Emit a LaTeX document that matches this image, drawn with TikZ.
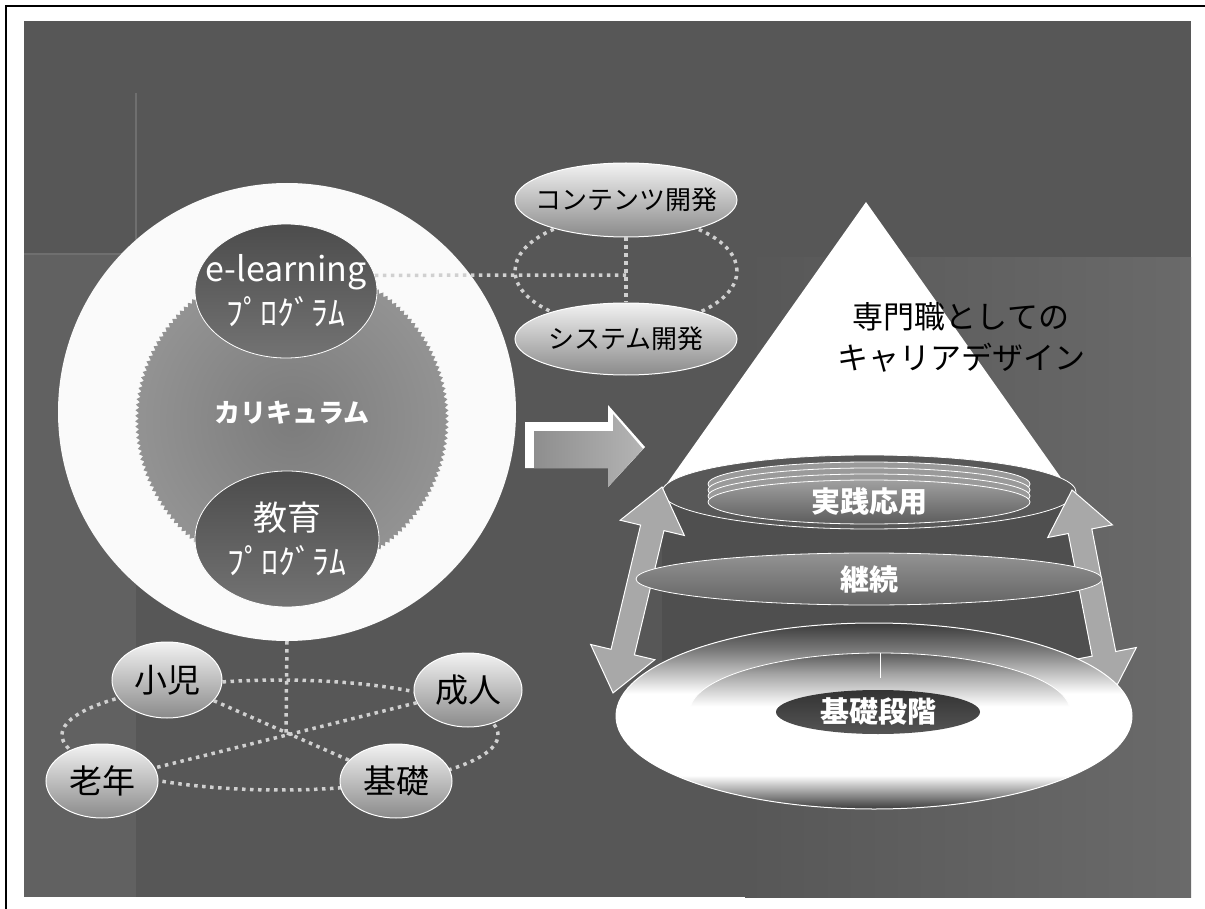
\documentclass[tikz,border=0pt]{standalone}
\usepackage{fontspec}
\setmainfont{Noto Sans CJK JP}
\usetikzlibrary{shapes.geometric,decorations.pathmorphing}
\definecolor{panelA}{HTML}{575757}
\definecolor{panelB}{HTML}{6A6A6A}
\definecolor{panelL}{HTML}{616161}
\definecolor{faintC}{HTML}{6F6F6F}
\definecolor{dotC}{HTML}{D0D0D0}
\definecolor{gearC}{HTML}{939393}
\definecolor{gearIn}{HTML}{7C7C7C}
\definecolor{bigC}{HTML}{FAFAFA}
\definecolor{dbTop}{HTML}{4C4C4C}
\definecolor{dbBot}{HTML}{737373}
\definecolor{lbTop}{HTML}{F2F2F2}
\definecolor{lbMid}{HTML}{CFCFCF}
\definecolor{lbBot}{HTML}{8A8A8A}
\definecolor{cylC}{HTML}{4F4F4F}
\definecolor{discE}{HTML}{585858}
\definecolor{discM}{HTML}{2E2E2E}
\definecolor{ringC}{HTML}{9A9A9A}
\definecolor{jsTop}{HTML}{A0A0A0}
\definecolor{jsBot}{HTML}{5C5C5C}
\definecolor{kzTop}{HTML}{939393}
\definecolor{kzBot}{HTML}{646464}
\definecolor{arrC}{HTML}{A8A8A8}
\definecolor{bdE}{HTML}{3A3A3A}
\definecolor{bdM}{HTML}{777777}
\definecolor{innTop}{HTML}{5A5A5A}
\definecolor{ksTop}{HTML}{333333}
\definecolor{ksBot}{HTML}{555555}
\definecolor{mArL}{HTML}{8E8E8E}
\definecolor{mArR}{HTML}{B4B4B4}
\pgfdeclareverticalshading{discsh}{100bp}{color(0bp)=(bdE); color(25bp)=(bdE); color(34bp)=(white); color(56bp)=(white); color(68bp)=(bdM); color(75bp)=(bdE); color(100bp)=(bdE)}
\pgfdeclareverticalshading{innsh}{100bp}{color(0bp)=(white); color(25bp)=(white); color(52bp)=(white); color(66bp)=(innTop!55!white); color(75bp)=(innTop); color(100bp)=(innTop)}
\tikzset{
  dotln/.style={draw=dotC, line width=3.5pt, dash pattern=on 3.5pt off 4.5pt},
  darkbub/.style={ellipse, draw=white, line width=0.8pt, top color=dbTop, bottom color=dbBot, inner sep=0pt},
  lightbub/.style={ellipse, draw=white, line width=1pt, top color=lbTop, middle color=lbMid, bottom color=lbBot, inner sep=0pt},
  wtxt/.style={text=white, align=center, inner sep=0pt},
  btxt/.style={text=black, align=center, inner sep=0pt},
  fbig/.style={font=\fontsize{34}{44}\selectfont},
  fmid/.style={font=\fontsize{33}{40}\selectfont},
  fsm/.style={font=\fontsize{26}{30}\selectfont},
  fbold/.style={font=\bfseries\fontsize{29}{34}\selectfont},
  blockarr/.style={fill=arrC, draw=white, line width=1pt}
}
\begin{document}
\begin{tikzpicture}[x=1pt,y=1pt]
\useasboundingbox (0,0) rectangle (1205,-909);
\fill[white] (0,0) rectangle (1205,-909);
% panel
\fill[panelA] (24,-21) rectangle (1191,-897);
\fill[panelL] (24,-254) rectangle (136,-897);
\shade[left color=panelA, right color=panelB] (745,-258) rectangle (1191,-897);
\draw[faintC, line width=1.5pt] (136,-93) -- (136,-254);
\draw[faintC, line width=1.5pt] (24,-254) -- (136,-254);
% frame
\draw[black, line width=1.2pt] (6,-909) -- (6,-6) -- (1205,-6);

% dotted loops (behind nodes)
\draw[dotln] (626,-271) ellipse [x radius=111, y radius=55];
\draw[dotln] (280,-735) ellipse [x radius=218, y radius=55];

% big circle and gear
\node[circle, minimum size=458pt, inner sep=0pt, fill=bigC] (cur) at (287,-412) {};
\shade[inner color=gearIn, outer color=gearC, decorate, decoration={zigzag, segment length=5.5pt, amplitude=1.8pt}] (292,-420) circle [radius=155];
\node[wtxt, font=\bfseries\fontsize{26}{30}\selectfont] (curtxt) at (292,-413) {カリキュラム};

\node[darkbub, minimum width=182pt, minimum height=134pt,
  label={[wtxt, fbig]center:{e-learning\\ﾌﾟﾛｸﾞﾗﾑ}}] (elearn) at (286,-291) {};
\node[darkbub, minimum width=184pt, minimum height=136pt,
  label={[wtxt, fbig]center:{教育\\ﾌﾟﾛｸﾞﾗﾑ}}] (kyoiku) at (287,-539) {};

% development bubbles
\node[lightbub, minimum width=222pt, minimum height=74pt,
  label={[btxt, fsm]center:コンテンツ開発}] (cont) at (626,-200) {};
\node[lightbub, minimum width=222pt, minimum height=72pt,
  label={[btxt, fsm]center:システム開発}] (sys) at (626,-339) {};
\coordinate (dj) at (626,-275);
\draw[dotln] (elearn.10) -- (dj);
\draw[dotln] (cont) -- (sys);

% target bubbles
\node[lightbub, minimum width=110pt, minimum height=76pt,
  label={[btxt, fmid]center:小児}] (child) at (167,-680) {};
\node[lightbub, minimum width=108pt, minimum height=74pt,
  label={[btxt, fmid]center:成人}] (adult) at (468,-690) {};
\node[lightbub, minimum width=112pt, minimum height=74pt,
  label={[btxt, fmid]center:老年}] (elder) at (102,-781) {};
\node[lightbub, minimum width=112pt, minimum height=74pt,
  label={[btxt, fmid]center:基礎}] (basic) at (396,-781) {};
\coordinate (X) at (286,-734);
\draw[dotln] (cur.south) -- (X);
\draw[dotln] (child) -- (basic);
\draw[dotln] (adult) -- (elder);

% central block arrow
\fill[white] (525,-422) -- (608,-422) -- (608,-405) -- (645,-447) -- (608,-487) -- (608,-468) -- (525,-468) -- cycle;
\shade[left color=mArL, right color=mArR] (534,-431) -- (613,-431) -- (613,-414) -- (643,-449) -- (608,-487) -- (608,-468) -- (534,-468) -- cycle;

% pyramid
\fill[cylC] (662,-492) -- (1076,-492) -- (1094,-660) -- (662,-660) -- cycle;
\fill[white] (866,-202) -- (1071,-492) -- (661,-492) -- cycle;
\node[btxt, font=\fontsize{31}{41}\selectfont] (pyrtxt) at (961,-337) {専門職としての\\キャリアデザイン};

\node[ellipse, minimum width=414pt, minimum height=74pt, inner sep=0pt, draw=white, line width=0.8pt,
  left color=discE, middle color=discM, right color=discE] (topdisc) at (869,-492) {};
\foreach \yy in {484,490,496}
  \draw[white, line width=0.8pt, fill=ringC] (869,-\yy) ellipse [x radius=161, y radius=22];
\node[ellipse, minimum width=322pt, minimum height=44pt, inner sep=0pt, draw=white, line width=0.8pt,
  top color=jsTop, bottom color=jsBot,
  label={[wtxt, fbold]center:実践応用}] (jissen) at (869,-502) {};

% double block arrows
\coordinate (la1) at (662,-487);
\coordinate (ra1) at (1072,-490);
\begin{scope}[shift={(la1)}, rotate=-103.38]
  \path[blockarr] (0,0) -- (42,33) -- (42,12) -- (169.7,12) -- (169.7,33) -- (211.7,0) -- (169.7,-33) -- (169.7,-12) -- (42,-12) -- (42,-33) -- cycle;
\end{scope}
\begin{scope}[shift={(ra1)}, rotate=-78.96]
  \path[blockarr] (0,0) -- (42,33) -- (42,12) -- (166.9,12) -- (166.9,33) -- (208.9,0) -- (166.9,-33) -- (166.9,-12) -- (42,-12) -- (42,-33) -- cycle;
\end{scope}

\node[ellipse, minimum width=466pt, minimum height=52pt, inner sep=0pt, draw=white, line width=0.8pt,
  top color=kzTop, bottom color=kzBot,
  label={[wtxt, fbold]center:継続}] (keizoku) at (869,-579) {};

% base disc
\node[ellipse, minimum width=516pt, minimum height=186pt, inner sep=0pt, draw=white, line width=1pt,
  shading=discsh] (base) at (874,-716) {};
\path[draw=white, line width=0.8pt, shading=innsh] (880,-711) ellipse [x radius=190, y radius=58];
\draw[white, line width=0.8pt] (880,-653) -- (880,-678);
\node[ellipse, minimum width=204pt, minimum height=44pt, inner sep=0pt,
  top color=ksTop, bottom color=ksBot,
  label={[wtxt, fbold]center:基礎段階}] (kiso) at (878,-712) {};
\end{tikzpicture}
\end{document}
